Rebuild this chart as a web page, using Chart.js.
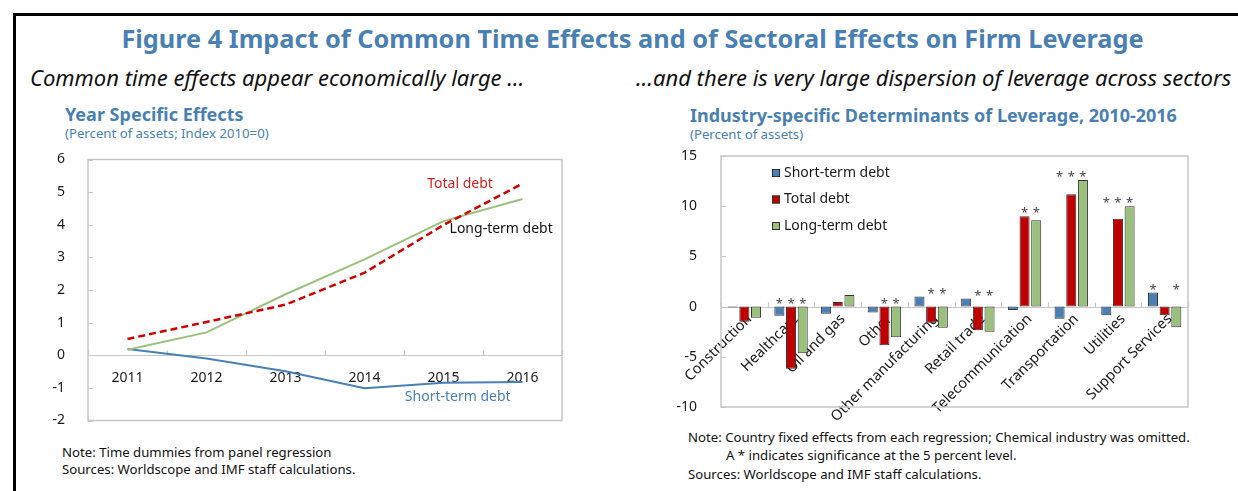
<!DOCTYPE html>
<html>
<head>
<meta charset="utf-8">
<script src="https://cdn.jsdelivr.net/npm/chart.js@4.4.0/dist/chart.umd.min.js"></script>
<style>
body { margin: 0; background: #fff; }
#page { position: relative; width: 1238px; height: 491px; overflow: hidden; background: #fff; font-family: "Noto Sans", sans-serif; color: #111; }
#frame { position: absolute; left: 13px; top: 13px; width: 1400px; height: 700px; border-left: 3px solid #000; border-top: 3px solid #000; }
.t { position: absolute; white-space: nowrap; }
.blue { color: #4a7fb3; }
#title { left: 0; width: 1265px; text-align: center; top: 23px; font-size: 25.3px; line-height: 30px; font-weight: bold; }
.sub { font-size: 22px; line-height: 26px; font-style: italic; top: 64px; }
.ctitle { font-size: 18px; line-height: 22px; font-weight: bold; }
.cunit { font-size: 13.2px; line-height: 16px; }
.note { font-size: 13.2px; line-height: 16px; }
canvas { position: absolute; }
</style>
</head>
<body>
<div id="page">
  <div id="frame"></div>
  <div class="t blue" id="title">Figure 4 Impact of Common Time Effects and of Sectoral Effects on Firm Leverage</div>
  <div class="t sub" style="left:30px">Common time effects appear economically large …</div>
  <div class="t sub" style="left:636px">…and there is very large dispersion of leverage across sectors</div>

  <div class="t blue ctitle" style="left:65px; top:103px">Year Specific Effects</div>
  <div class="t blue cunit" style="left:65px; top:125px">(Percent of assets; Index 2010=0)</div>
  <div class="t blue ctitle" style="left:690px; top:104px">Industry-specific Determinants of Leverage, 2010-2016</div>
  <div class="t blue cunit" style="left:690px; top:126px">(Percent of assets)</div>

  <canvas id="years" width="530" height="290" style="left:40px; top:150px"></canvas>
  <canvas id="sectors" width="545" height="285" style="left:660px; top:140px"></canvas>

  <div class="t note" style="left:62px; top:444px">Note: Time dummies from panel regression</div>
  <div class="t note" style="left:62px; top:461px">Sources: Worldscope and IMF staff calculations.</div>
  <div class="t note" style="left:688px; top:429px">Note: Country fixed effects from each regression; Chemical industry was omitted.</div>
  <div class="t note" style="left:726px; top:447px">A * indicates significance at the 5 percent level.</div>
  <div class="t note" style="left:688px; top:466px">Sources: Worldscope and IMF staff calculations.</div>
</div>

<script>
// Left panel: year effects
const years = ['2011', '2012', '2013', '2014', '2015', '2016'];
const totalDebt = [0.50, 1.02, 1.55, 2.53, 3.99, 5.26];
const longTermDebt = [0.17, 0.70, 1.87, 2.94, 4.11, 4.79];
const shortTermDebt = [0.19, -0.10, -0.49, -1.01, -0.84, -0.82];
const yearTicks = [-2, -1, 0, 1, 2, 3, 4, 5, 6];

// Right panel: sector effects
const sectors = ['Construction', 'Healthcare', 'Oil and gas', 'Other', 'Other manufacturing',
  'Retail trade', 'Telecommunication', 'Transportation', 'Utilities', 'Support Services'];
const sectorShort = [-0.1, -0.9, -0.7, -0.6, 1.0, 0.8, -0.35, -1.2, -0.85, 1.4];
const sectorTotal = [-1.5, -6.2, 0.45, -3.85, -1.6, -2.35, 9.0, 11.2, 8.75, -0.85];
const sectorLong = [-1.1, -4.65, 1.15, -3.05, -2.1, -2.5, 8.6, 12.6, 10.0, -2.05];
// 1 = significant at 5 percent level (drawn as *)
const sigShort = [0, 1, 0, 0, 0, 0, 0, 1, 1, 1];
const sigTotal = [0, 1, 0, 1, 1, 1, 1, 1, 1, 0];
const sigLong = [0, 1, 0, 1, 1, 1, 1, 1, 1, 1];
const sectorTicks = [-10, -5, 0, 5, 10, 15];

const BLUE = '#4a7fb3', RED = '#c00000', GREEN = '#9bc07e';
Chart.defaults.font.family = '"Noto Sans", sans-serif';
Chart.defaults.font.size = 14;
Chart.defaults.color = '#1a1a1a';
Chart.defaults.animation = false;

// plot box, zero line, small inside ticks (Excel style)
const framePlugin = {
  id: 'frame',
  beforeDatasetsDraw(chart) {
    const { ctx, chartArea: a, scales: { x, y } } = chart;
    const z = Math.round(y.getPixelForValue(0)) + 0.5;
    ctx.save();
    ctx.strokeStyle = '#c6c6c6';
    ctx.lineWidth = 1.5;
    ctx.strokeRect(a.left, a.top, a.right - a.left, a.bottom - a.top);
    ctx.lineWidth = 1.2;
    ctx.beginPath();
    ctx.moveTo(a.left, z); ctx.lineTo(a.right, z);
    y.ticks.forEach(t => {
      const py = Math.round(y.getPixelForValue(t.value)) + 0.5;
      ctx.moveTo(a.left, py); ctx.lineTo(a.left + 5, py);
    });
    for (let i = 0; i <= x.ticks.length; i++) {
      const px = Math.round(x.getPixelForValue(i - 0.5)) + 0.5;
      ctx.moveTo(px, z); ctx.lineTo(px, z - 5);
    }
    ctx.stroke();
    ctx.restore();
  }
};

function fixAxis(width) {
  return s => { s.width = width; s.paddingTop = 0; s.paddingBottom = 0; };
}
function noPad(s) { s.paddingLeft = 0; s.paddingRight = 0; }

// labels next to the lines, placed in data units
const lineLabels = {
  id: 'lineLabels',
  afterDatasetsDraw(chart) {
    const { ctx, scales: { x, y } } = chart;
    const spots = [
      { text: 'Total debt', color: '#d42020', xi: 4.21, yv: 5.25 },
      { text: 'Long-term debt', color: '#111', xi: 4.73, yv: 3.87 },
      { text: 'Short-term debt', color: BLUE, xi: 4.18, yv: -1.29 }
    ];
    ctx.save();
    ctx.font = '14px "Noto Sans", sans-serif';
    ctx.textAlign = 'center';
    ctx.textBaseline = 'middle';
    spots.forEach(s => {
      ctx.fillStyle = s.color;
      ctx.fillText(s.text, x.getPixelForValue(s.xi), y.getPixelForValue(s.yv));
    });
    ctx.restore();
  }
};

new Chart(document.getElementById('years'), {
  type: 'line',
  data: {
    labels: years,
    datasets: [
      { label: 'Total debt', data: totalDebt, borderColor: '#d00000', borderWidth: 2.5, borderDash: [7, 4], pointRadius: 0 },
      { label: 'Long-term debt', data: longTermDebt, borderColor: GREEN, borderWidth: 2, pointRadius: 0 },
      { label: 'Short-term debt', data: shortTermDebt, borderColor: BLUE, borderWidth: 2, pointRadius: 0 }
    ]
  },
  options: {
    responsive: false,
    layout: { padding: { top: 9.5, right: 8, bottom: 19.5, left: 0 } },
    plugins: { legend: { display: false }, tooltip: { enabled: false } },
    scales: {
      x: {
        position: { y: 0 },
        offset: true,
        grid: { display: false },
        border: { display: false },
        ticks: { padding: 6 },
        afterFit: noPad
      },
      y: {
        min: yearTicks[0], max: yearTicks[yearTicks.length - 1],
        ticks: { stepSize: yearTicks[1] - yearTicks[0], padding: 15 },
        grid: { display: false },
        border: { display: false },
        afterFit: fixAxis(48)
      }
    }
  },
  plugins: [framePlugin, lineLabels]
});

// legend box inside the plot + significance stars
const sectorExtras = {
  id: 'sectorExtras',
  afterDatasetsDraw(chart) {
    const { ctx, chartArea: a, scales: { y } } = chart;
    const sets = chart.data.datasets;
    const sig = [sigShort, sigTotal, sigLong];
    ctx.save();
    ctx.fillStyle = '#444';
    ctx.font = '13px "Noto Sans", sans-serif';
    ctx.textAlign = 'center';
    ctx.textBaseline = 'alphabetic';
    sectors.forEach((_, i) => {
      const top = Math.max(0, ...sets.map(ds => ds.data[i]));
      const py = y.getPixelForValue(top) + 1;
      sets.forEach((ds, d) => {
        if (sig[d][i]) ctx.fillText('*', chart.getDatasetMeta(d).data[i].x, py);
      });
    });
    // legend
    ctx.font = '14px "Noto Sans", sans-serif';
    ctx.textAlign = 'left';
    ctx.textBaseline = 'middle';
    sets.forEach((ds, d) => {
      const lx = a.left + 51, ly = a.top + 17 + d * 26.5;
      ctx.fillStyle = ds.backgroundColor;
      ctx.fillRect(lx, ly - 4, 8, 8);
      ctx.strokeStyle = '#333';
      ctx.lineWidth = 1;
      ctx.strokeRect(lx + 0.5, ly - 3.5, 7, 7);
      ctx.fillStyle = '#1a1a1a';
      ctx.fillText(ds.label, lx + 12, ly);
    });
    ctx.restore();
  }
};

const barStyle = { borderColor: '#333', borderWidth: 1, borderSkipped: false, categoryPercentage: 0.75, barPercentage: 0.86 };

new Chart(document.getElementById('sectors'), {
  type: 'bar',
  data: {
    labels: sectors,
    datasets: [
      Object.assign({ label: 'Short-term debt', data: sectorShort, backgroundColor: BLUE }, barStyle),
      Object.assign({ label: 'Total debt', data: sectorTotal, backgroundColor: RED }, barStyle),
      Object.assign({ label: 'Long-term debt', data: sectorLong, backgroundColor: GREEN }, barStyle)
    ]
  },
  options: {
    responsive: false,
    layout: { padding: { top: 16, right: 17, bottom: 18, left: 0 } },
    plugins: { legend: { display: false }, tooltip: { enabled: false } },
    scales: {
      x: {
        position: { y: 0 },
        grid: { display: false },
        border: { display: false },
        ticks: { autoSkip: false, minRotation: 45, maxRotation: 45, padding: -4, labelOffset: 5, font: { size: 14.5 } },
        afterFit: noPad
      },
      y: {
        min: sectorTicks[0], max: sectorTicks[sectorTicks.length - 1],
        ticks: { stepSize: sectorTicks[1] - sectorTicks[0], padding: 16 },
        grid: { display: false },
        border: { display: false },
        afterFit: fixAxis(61)
      }
    }
  },
  plugins: [framePlugin, sectorExtras]
});
</script>
</body>
</html>
